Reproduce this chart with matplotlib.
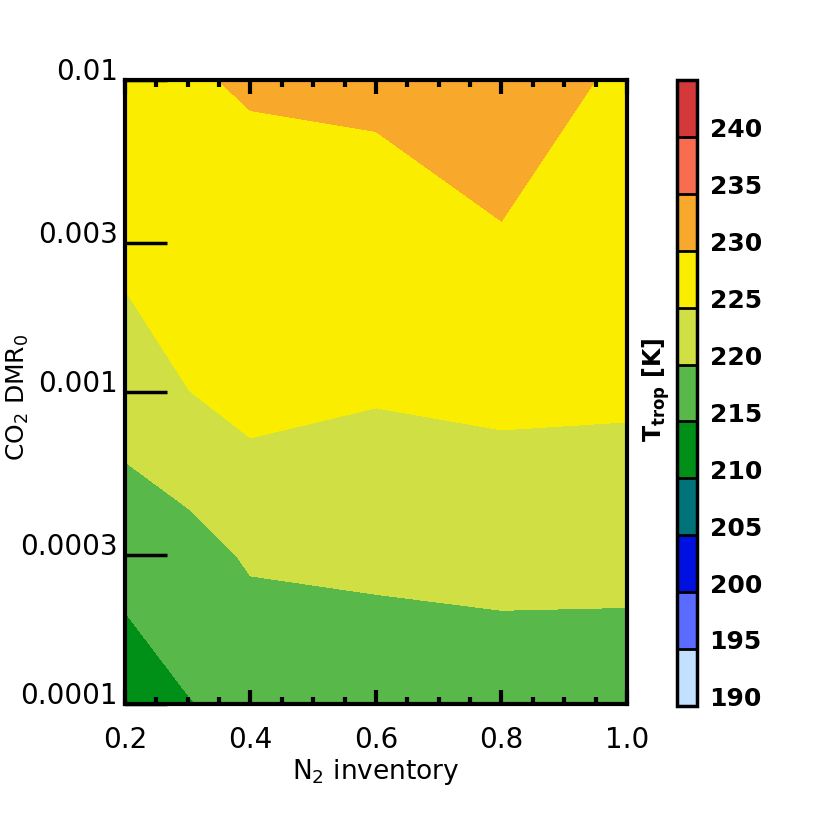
import numpy as np
import matplotlib.pyplot as plt
from matplotlib.colors import ListedColormap, BoundaryNorm
from matplotlib.ticker import MultipleLocator, FixedLocator

plt.rcParams['font.family'] = ['DejaVu Sans']
plt.rcParams['mathtext.default'] = 'regular'

# grid of the runs
n2 = [0.2, 0.3, 0.4, 0.6, 0.8, 1.0]
co2 = [1e-4, 3e-4, 1e-3, 3e-3, 1e-2]

# tropopause temperature [K], rows = co2, cols = n2
t_trop = np.array([
    [213.0, 214.8, 216.3, 217.2, 217.45, 217.6],
    [216.24, 218.0, 220.6, 221.0, 221.5, 221.3],
    [222.81, 224.9, 226.72, 225.43, 226.06, 225.83],
    [226.0, 228.5, 227.65, 228.0, 229.5, 228.0],
    [228.0, 229.5, 230.54, 230.92, 233.2, 228.93],
])

levels = np.arange(190, 250, 5)
colors = ['#c4e0ff', '#5a6cff', '#0010e0', '#00737a', '#009018', '#58b84a',
          '#d0e044', '#faed00', '#f8a82a', '#f86c50', '#d43838']

ytick_vals = [1e-4, 3e-4, 1e-3, 3e-3, 1e-2]
ytick_labels = ['0.0001', '0.0003', '0.001', '0.003', '0.01']

cmap = ListedColormap(colors)
norm = BoundaryNorm(levels, cmap.N)

fig = plt.figure(figsize=(8.3, 8.3), dpi=100)
ax = fig.add_axes([0.1506, 0.1518, 0.6048, 0.7518])

# contour in log10(co2) so lines are straight on the log axis
cs = ax.contourf(n2, np.log10(co2), t_trop, levels=levels, cmap=cmap, norm=norm)

ax.set_xlim(0.2, 1.0)
ax.set_ylim(-4, -2)
ax.set_xticks([0.2, 0.4, 0.6, 0.8, 1.0])
ax.set_xticklabels(['0.2', '0.4', '0.6', '0.8', '1.0'])
ax.xaxis.set_minor_locator(MultipleLocator(0.05))
ax.yaxis.set_major_locator(FixedLocator(np.log10(ytick_vals)))
ax.set_yticklabels(ytick_labels, va='baseline')

for s in ax.spines.values():
    s.set_linewidth(3)
ax.tick_params(axis='x', which='major', direction='in', length=10, width=3,
               top=True, bottom=True, labelsize=20, pad=16)
ax.tick_params(axis='x', which='minor', direction='in', length=5, width=3,
               top=True, bottom=True)
ax.tick_params(axis='y', which='major', direction='in', length=30, width=2.5,
               left=True, right=False, labelsize=20, pad=5)

fig.text(376 / 830, 1 - 772 / 830, 'N$_2$ inventory', ha='center', va='center',
         fontsize=19)
fig.text(18 / 830, 1 - 397 / 830, 'CO$_2$ DMR$_0$', ha='center', va='center',
         rotation=90, fontsize=18)

cax = fig.add_axes([0.8157, 0.1494, 0.0241, 0.7542])
cb = fig.colorbar(cs, cax=cax, drawedges=True)
cb.outline.set_linewidth(2.5)
cb.dividers.set_linewidth(2)
cb.dividers.set_color('black')
cax.set_yticks([v + 0.8 for v in levels[:-1]])
cax.set_yticklabels([str(v) for v in levels[:-1]], fontweight='bold')
cax.tick_params(axis='y', length=0, labelsize=18, pad=9)
cax.yaxis.set_minor_locator(FixedLocator([]))

fig.text(656 / 830, 1 - 390 / 830, 'T$_{trop}$ [K]', ha='center', va='center',
         rotation=90, fontsize=17, fontweight='bold')

fig.savefig('out.png', dpi=100)
